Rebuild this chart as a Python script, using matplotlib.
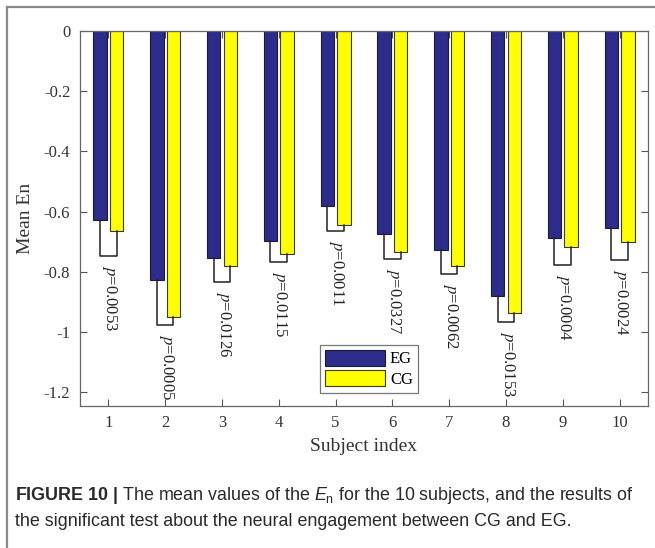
import numpy as np
import matplotlib
matplotlib.use('Agg')
import matplotlib.pyplot as plt
from matplotlib.lines import Line2D

subjects = np.arange(1, 11)
eg_mean = [-0.627, -0.828, -0.755, -0.698, -0.583, -0.674, -0.729, -0.879, -0.689, -0.656]
cg_mean = [-0.663, -0.950, -0.780, -0.740, -0.645, -0.734, -0.782, -0.937, -0.718, -0.701]
bracket_y = [-0.746, -0.977, -0.835, -0.767, -0.666, -0.757, -0.807, -0.968, -0.779, -0.760]
p_values = ['0.0053', '0.0005', '0.0126', '0.0115', '0.0011',
            '0.0327', '0.0062', '0.0153', '0.0004', '0.0024']
yticks = [0, -0.2, -0.4, -0.6, -0.8, -1, -1.2]
ytick_labels = ['0', '-0.2', '-0.4', '-0.6', '-0.8', '-1', '-1.2']

plt.rcParams['font.family'] = 'Liberation Serif'
plt.rcParams['mathtext.fontset'] = 'custom'
plt.rcParams['mathtext.rm'] = 'Liberation Sans'
plt.rcParams['mathtext.it'] = 'Liberation Sans:italic'
plt.rcParams['mathtext.bf'] = 'Liberation Sans:bold'

fig = plt.figure(figsize=(6.55, 5.48), dpi=100)
ax = fig.add_axes([0.1221, 0.2597, 0.8672, 0.6837])

w = 0.235
off = 0.146
eg_col = '#2d2b8c'
cg_col = '#ffff00'
ax.bar(subjects - off, eg_mean, width=w, color=eg_col, edgecolor='#1a1a3a', lw=0.8, label='EG', zorder=2)
ax.bar(subjects + off, cg_mean, width=w, color=cg_col, edgecolor='#3a3a10', lw=0.8, label='CG', zorder=2)

# significance brackets and p labels
for i, s in enumerate(subjects):
    xs = [s - off, s - off, s + off, s + off]
    ys = [eg_mean[i], bracket_y[i], bracket_y[i], cg_mean[i]]
    ax.plot(xs, ys, color='#222222', lw=1.1, zorder=3)
    ax.text(s + 0.02, bracket_y[i] - 0.03, r'$p$=' + p_values[i], rotation=-90,
            ha='center', va='top', fontsize=12, color='#222222',
            math_fontfamily='stix', zorder=4)

ax.set_xlim(0.5, 10.5)
ax.set_ylim(-1.245, 0)
ax.set_xticks(subjects)
ax.set_xticklabels([str(s) for s in subjects], fontsize=12)
ax.set_yticks(yticks)
ax.set_yticklabels(ytick_labels, fontsize=12)
ax.tick_params(direction='in', length=5, width=0.8, color='#555555',
               top=True, right=True, labelcolor='#333333', pad=7)
for sp in ax.spines.values():
    sp.set_color('#666666')
    sp.set_linewidth(0.9)

ax.set_xlabel('Subject index', fontsize=14, color='#333333', labelpad=5)
ax.set_ylabel('Mean En', fontsize=14, color='#333333', labelpad=7)

leg = ax.legend(loc='lower left', bbox_to_anchor=(0.4225, 0.035), fontsize=12,
                frameon=True, fancybox=False, edgecolor='#555555',
                handlelength=3.6, handleheight=1.1, handletextpad=0.3,
                borderpad=0.3, labelspacing=0.15, borderaxespad=0)
leg.get_frame().set_linewidth(0.9)

# outer frame
fig.add_artist(Line2D([7 / 655, 1], [1 - 7 / 548, 1 - 7 / 548], color='#8a8a8a', lw=1.6))
fig.add_artist(Line2D([7 / 655, 7 / 655], [0, 1 - 7 / 548], color='#8a8a8a', lw=1.6))

fig.text(15 / 655, 1 - 496 / 548,
         r'$\mathbf{FIGURE\ 10\ |}$ The mean values of the $E_{\rm n}$ for the 10 subjects, and the results of',
         fontsize=12.9, family='Liberation Sans', va='center', ha='left', color='#2a2a2a')
fig.text(15 / 655, 1 - 521 / 548,
         'the significant test about the neural engagement between CG and EG.',
         fontsize=12.9, family='Liberation Sans', va='center', ha='left', color='#2a2a2a')

fig.savefig('out.png', dpi=100)
